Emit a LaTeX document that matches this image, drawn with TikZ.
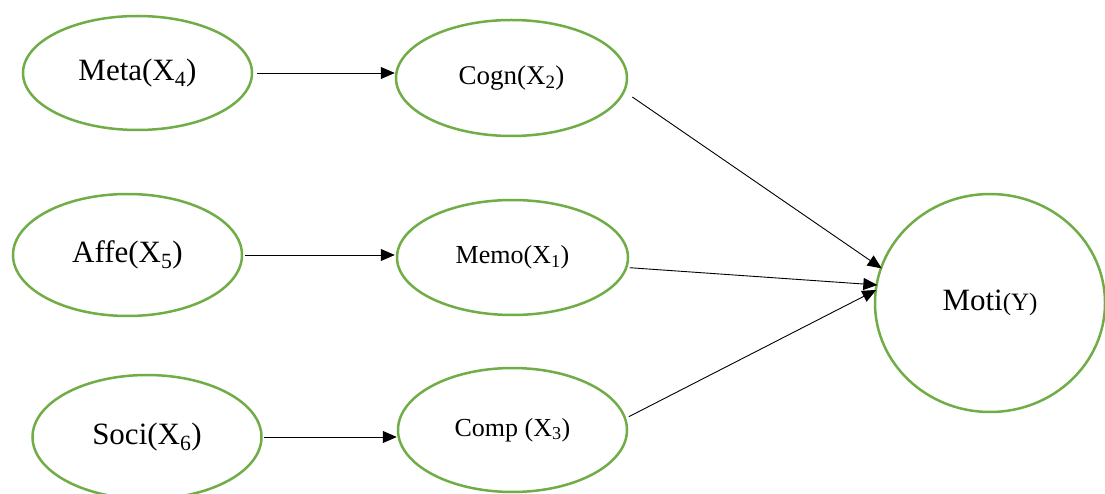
\documentclass[tikz,border=0pt]{standalone}
\usepackage{fontspec}
\setmainfont{Liberation Serif}
\usetikzlibrary{shapes.geometric,arrows.meta}
\definecolor{vargreen}{HTML}{70AD47}
\begin{document}
\begin{tikzpicture}[x=1pt,y=-1pt,
  var/.style={draw=vargreen,line width=2.5pt,ellipse,inner sep=0pt,fill=white},
  link/.style={draw=black,line width=0.9pt,-{Triangle[length=14pt,width=12pt]}},
  big/.style={font=\fontsize{31}{36}\selectfont},
  mid/.style={font=\fontsize{27}{32}\selectfont}]
\useasboundingbox (0,0) rectangle (1105,494);
\fill[white] (0,0) rectangle (1105,494);
\node[var,big,minimum width=229pt,minimum height=114pt] (meta) at (137.5,73) {Meta(X\textsubscript{4})};
\node[var,big,minimum width=229pt,minimum height=122pt] (affe) at (127.5,255) {Affe(X\textsubscript{5})};
\node[var,big,minimum width=229pt,minimum height=124pt] (soci) at (147,437) {Soci(X\textsubscript{6})};
\node[var,mid,minimum width=231pt,minimum height=116pt] (cogn) at (511.5,78) {Cogn(X\textsubscript{2})};
\node[var,font=\fontsize{26}{31}\selectfont,minimum width=231pt,minimum height=115pt] (memo) at (512.5,257.5) {Memo(X\textsubscript{1})};
\node[var,font=\fontsize{26}{31}\selectfont,minimum width=229pt,minimum height=124pt] (comp) at (512.5,430) {Comp (X\textsubscript{3})};
\node[var,minimum width=230pt,minimum height=218pt] (moti) at (990,303) {\fontsize{31}{36}\selectfont Moti{\fontsize{25}{30}\selectfont(Y)}};
\draw[link,shorten <=4pt,shorten >=0pt] (meta.east) -- (meta.east -| cogn.west);
\draw[link,shorten <=2pt,shorten >=1pt] (affe) -- (affe -| memo.west);
\draw[link,shorten <=1pt,shorten >=0pt] (soci) -- (soci -| comp.west);
\draw[link,shorten <=9pt,shorten >=-2pt] (cogn.-7) -- (moti.162);
\draw[link,shorten <=2pt,shorten >=-2pt] (memo.-5) -- (moti.171);
\draw[link,shorten <=3pt,shorten >=-2pt] (comp.6) -- (moti.174);
\end{tikzpicture}
\end{document}
